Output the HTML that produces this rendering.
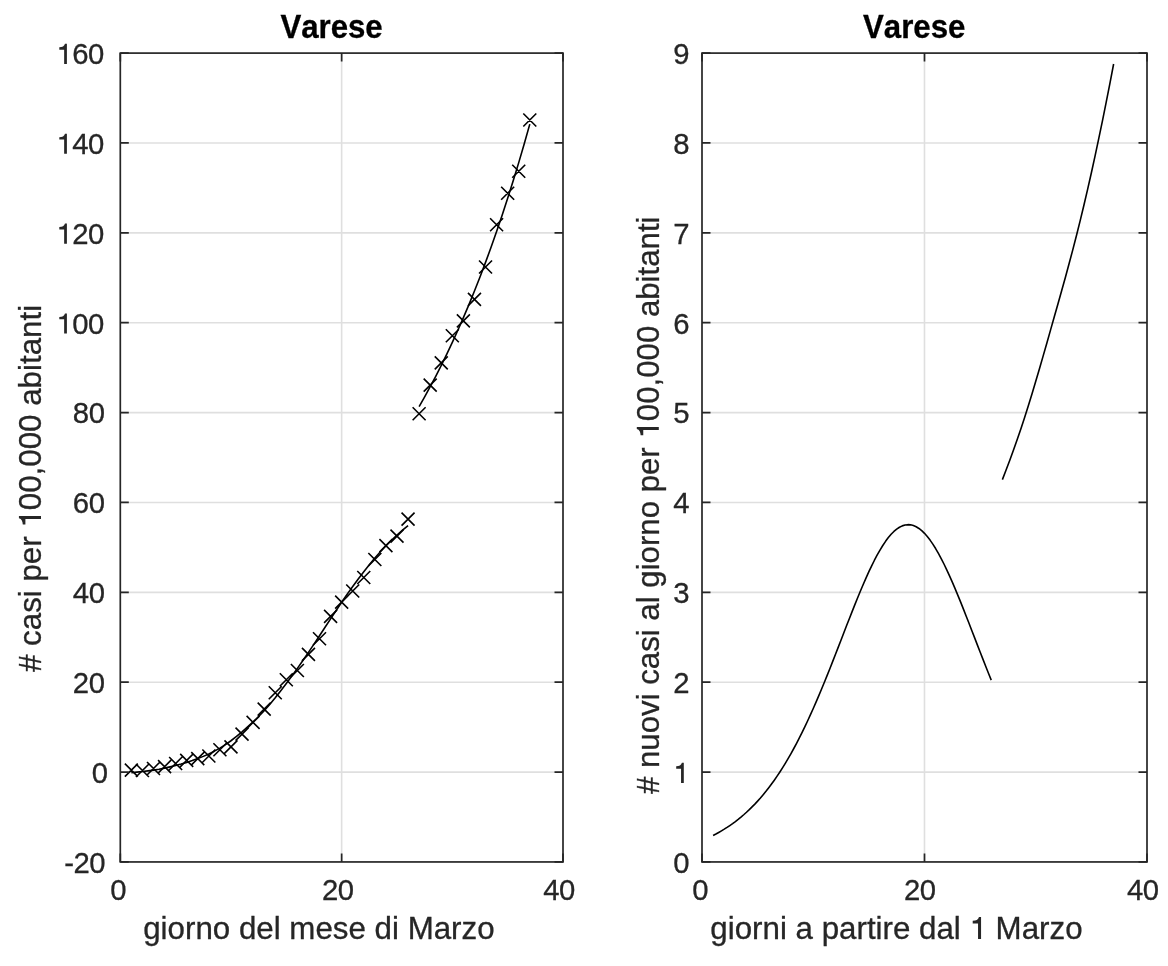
<!DOCTYPE html>
<html><head><meta charset="utf-8"><title>Varese</title>
<style>
html,body{margin:0;padding:0;background:#fff;}
body{width:1168px;height:966px;overflow:hidden;}
svg{display:block;will-change:transform;}
text{font-family:"Liberation Sans",sans-serif;font-kerning:none;white-space:pre;}
</style></head><body>
<svg width="1168" height="966" viewBox="0 0 1168 966">
<rect width="1168" height="966" fill="#fff"/>
<line x1="341.65" y1="53.1" x2="341.65" y2="861.95" stroke="#dfdfdf" stroke-width="1.6"/>
<line x1="120.3" y1="772.08" x2="563" y2="772.08" stroke="#dfdfdf" stroke-width="1.6"/>
<line x1="120.3" y1="682.21" x2="563" y2="682.21" stroke="#dfdfdf" stroke-width="1.6"/>
<line x1="120.3" y1="592.33" x2="563" y2="592.33" stroke="#dfdfdf" stroke-width="1.6"/>
<line x1="120.3" y1="502.46" x2="563" y2="502.46" stroke="#dfdfdf" stroke-width="1.6"/>
<line x1="120.3" y1="412.59" x2="563" y2="412.59" stroke="#dfdfdf" stroke-width="1.6"/>
<line x1="120.3" y1="322.72" x2="563" y2="322.72" stroke="#dfdfdf" stroke-width="1.6"/>
<line x1="120.3" y1="232.84" x2="563" y2="232.84" stroke="#dfdfdf" stroke-width="1.6"/>
<line x1="120.3" y1="142.97" x2="563" y2="142.97" stroke="#dfdfdf" stroke-width="1.6"/>
<line x1="924.5" y1="53.1" x2="924.5" y2="861.95" stroke="#dfdfdf" stroke-width="1.6"/>
<line x1="702" y1="772.08" x2="1147" y2="772.08" stroke="#dfdfdf" stroke-width="1.6"/>
<line x1="702" y1="682.21" x2="1147" y2="682.21" stroke="#dfdfdf" stroke-width="1.6"/>
<line x1="702" y1="592.33" x2="1147" y2="592.33" stroke="#dfdfdf" stroke-width="1.6"/>
<line x1="702" y1="502.46" x2="1147" y2="502.46" stroke="#dfdfdf" stroke-width="1.6"/>
<line x1="702" y1="412.59" x2="1147" y2="412.59" stroke="#dfdfdf" stroke-width="1.6"/>
<line x1="702" y1="322.72" x2="1147" y2="322.72" stroke="#dfdfdf" stroke-width="1.6"/>
<line x1="702" y1="232.84" x2="1147" y2="232.84" stroke="#dfdfdf" stroke-width="1.6"/>
<line x1="702" y1="142.97" x2="1147" y2="142.97" stroke="#dfdfdf" stroke-width="1.6"/>
<polyline points="131.37 772.76 136.9 772.13 142.44 771.53 147.97 770.89 153.5 770.15 159.04 769.26 164.57 768.15 170.1 766.88 175.64 765.51 181.17 764.03 186.7 762.4 192.24 760.6 197.77 758.6 203.31 756.38 208.84 753.91 214.37 751.16 219.91 748.11 225.44 744.65 230.97 740.75 236.51 736.46 242.04 731.84 247.58 726.96 253.11 721.89 258.64 716.5 264.18 710.66 269.71 704.41 275.25 697.77 280.78 690.79 286.31 683.53 291.85 676.03 297.38 668.36 302.91 660.49 308.45 652.39 313.98 644.12 319.51 635.74 325.05 627.3 330.58 618.86 336.12 610.5 341.65 602.26 347.18 594.24 352.72 586.48 358.25 578.99 363.78 571.76 369.32 564.78 374.85 558.05 380.39 551.68 385.92 545.74 391.45 540.22 396.99 535.05 402.52 530.18 408.06 525.56" fill="none" stroke="#000" stroke-width="1.6" stroke-linejoin="round"/>
<polyline points="419.12 406.57 424.66 396.83 430.19 386.73 435.72 376.26 441.26 365.39 446.79 354.11 452.32 342.41 457.86 330.27 463.39 317.67 468.93 304.6 474.46 291.05 479.99 276.98 485.53 262.39 491.06 247.25 496.59 231.55 502.13 215.25 507.66 198.34 513.2 180.81 518.73 162.61 524.26 143.73 529.8 124.14" fill="none" stroke="#000" stroke-width="1.6" stroke-linejoin="round"/>
<path d="M124.87 763.69l13 13M124.87 776.69l13 -13M135.94 763.96l13 13M135.94 776.96l13 -13M147 761.98l13 13M147 774.98l13 -13M158.07 760.19l13 13M158.07 773.19l13 -13M169.14 757.04l13 13M169.14 770.04l13 -13M180.2 753.89l13 13M180.2 766.89l13 -13M191.27 752.1l13 13M191.27 765.1l13 -13M202.34 749.54l13 13M202.34 762.54l13 -13M213.41 743.2l13 13M213.41 756.2l13 -13M224.47 740.32l13 13M224.47 753.32l13 -13M235.54 727.61l13 13M235.54 740.61l13 -13M246.61 715.88l13 13M246.61 728.88l13 -13M257.68 702.67l13 13M257.68 715.67l13 -13M268.75 686.27l13 13M268.75 699.27l13 -13M279.81 673.23l13 13M279.81 686.23l13 -13M290.88 664.02l13 13M290.88 677.02l13 -13M301.95 647.85l13 13M301.95 660.85l13 -13M313.01 632.3l13 13M313.01 645.3l13 -13M324.08 609.87l13 13M324.08 622.87l13 -13M335.15 595.63l13 13M335.15 608.63l13 -13M346.22 584.49l13 13M346.22 597.49l13 -13M357.28 571l13 13M357.28 584l13 -13M368.35 553.03l13 13M368.35 566.03l13 -13M379.42 539.1l13 13M379.42 552.1l13 -13M390.49 529.66l13 13M390.49 542.66l13 -13M401.56 512.59l13 13M401.56 525.59l13 -13M412.62 407.21l13 13M412.62 420.21l13 -13M423.69 378.68l13 13M423.69 391.68l13 -13M434.76 356.43l13 13M434.76 369.43l13 -13M445.82 329.25l13 13M445.82 342.25l13 -13M456.89 314.42l13 13M456.89 327.42l13 -13M467.96 292.85l13 13M467.96 305.85l13 -13M479.03 260.5l13 13M479.03 273.5l13 -13M490.09 218.26l13 13M490.09 231.26l13 -13M501.16 186.8l13 13M501.16 199.8l13 -13M512.23 164.78l13 13M512.23 177.78l13 -13M523.3 113.55l13 13M523.3 126.55l13 -13" fill="none" stroke="#000" stroke-width="1.6"/>
<polyline points="713.12 835.43 715.91 833.98 718.69 832.45 721.47 830.85 724.25 829.17 727.03 827.4 729.81 825.54 732.59 823.59 735.38 821.53 738.16 819.38 740.94 817.12 743.72 814.75 746.5 812.27 749.28 809.67 752.06 806.94 754.84 804.09 757.62 801.1 760.41 797.98 763.19 794.71 765.97 791.31 768.75 787.75 771.53 784.04 774.31 780.18 777.09 776.15 779.88 771.96 782.66 767.61 785.44 763.09 788.22 758.39 791 753.53 793.78 748.49 796.56 743.28 799.34 737.9 802.12 732.35 804.91 726.63 807.69 720.75 810.47 714.7 813.25 708.5 816.03 702.14 818.81 695.65 821.59 689.02 824.38 682.27 827.16 675.41 829.94 668.45 832.72 661.41 835.5 654.3 838.28 647.15 841.06 639.96 843.84 632.77 846.62 625.58 849.41 618.44 852.19 611.36 854.97 604.37 857.75 597.49 860.53 590.75 863.31 584.19 866.09 577.83 868.88 571.7 871.66 565.82 874.44 560.24 877.22 554.97 880 550.05 882.78 545.49 885.56 541.34 888.34 537.6 891.12 534.3 893.91 531.46 896.69 529.1 899.47 527.23 902.25 525.87 905.03 525.01 907.81 524.67 910.59 524.84 913.38 525.54 916.16 526.74 918.94 528.45 921.72 530.66 924.5 533.34 927.28 536.49 930.06 540.09 932.84 544.12 935.62 548.55 938.41 553.36 941.19 558.52 943.97 564 946.75 569.79 949.53 575.84 952.31 582.13 955.09 588.63 957.88 595.32 960.66 602.15 963.44 609.11 966.22 616.17 969 623.29 971.78 630.47 974.56 637.66 977.34 644.85 980.12 652.02 982.91 659.14 985.69 666.21 988.47 673.19 991.25 680.09" fill="none" stroke="#000" stroke-width="1.6" stroke-linejoin="round"/>
<polyline points="1002.38 479.63 1006.08 470.06 1009.79 460.2 1013.5 450.03 1017.21 439.52 1020.92 428.64 1024.62 417.38 1028.33 405.72 1032.04 393.7 1035.75 381.33 1039.46 368.7 1043.17 355.86 1046.88 342.91 1050.58 329.88 1054.29 316.82 1058 303.72 1061.71 290.53 1065.42 277.17 1069.12 263.56 1072.83 249.61 1076.54 235.23 1080.25 220.38 1083.96 205.02 1087.67 189.14 1091.38 172.74 1095.08 155.84 1098.79 138.44 1102.5 120.55 1106.21 102.18 1109.92 83.34 1113.62 64.01" fill="none" stroke="#000" stroke-width="1.6" stroke-linejoin="round"/>
<path d="M120.3 861.95v-8.5M120.3 53.1v8.5M341.65 861.95v-8.5M341.65 53.1v8.5M563 861.95v-8.5M563 53.1v8.5M120.3 861.95h8.5M563 861.95h-8.5M120.3 772.08h8.5M563 772.08h-8.5M120.3 682.21h8.5M563 682.21h-8.5M120.3 592.33h8.5M563 592.33h-8.5M120.3 502.46h8.5M563 502.46h-8.5M120.3 412.59h8.5M563 412.59h-8.5M120.3 322.72h8.5M563 322.72h-8.5M120.3 232.84h8.5M563 232.84h-8.5M120.3 142.97h8.5M563 142.97h-8.5M120.3 53.1h8.5M563 53.1h-8.5" fill="none" stroke="#262626" stroke-width="1.7"/>
<rect x="120.3" y="53.1" width="442.7" height="808.85" fill="none" stroke="#262626" stroke-width="1.7"/>
<path d="M702 861.95v-8.5M702 53.1v8.5M924.5 861.95v-8.5M924.5 53.1v8.5M1147 861.95v-8.5M1147 53.1v8.5M702 861.95h8.5M1147 861.95h-8.5M702 772.08h8.5M1147 772.08h-8.5M702 682.21h8.5M1147 682.21h-8.5M702 592.33h8.5M1147 592.33h-8.5M702 502.46h8.5M1147 502.46h-8.5M702 412.59h8.5M1147 412.59h-8.5M702 322.72h8.5M1147 322.72h-8.5M702 232.84h8.5M1147 232.84h-8.5M702 142.97h8.5M1147 142.97h-8.5M702 53.1h8.5M1147 53.1h-8.5" fill="none" stroke="#262626" stroke-width="1.7"/>
<rect x="702" y="53.1" width="445" height="808.85" fill="none" stroke="#262626" stroke-width="1.7"/>
<g transform="translate(280.4 37.8)"><text transform="scale(1 1.07)" font-size="31.2" font-weight="bold" fill="#000" stroke="#000" stroke-width="0.3">Varese</text></g>
<g transform="translate(863 37.8)"><text transform="scale(1 1.07)" font-size="31.2" font-weight="bold" fill="#000" stroke="#000" stroke-width="0.3">Varese</text></g>
<g transform="translate(143.2 939.1)"><text font-size="31.3" fill="#262626" stroke="#262626" stroke-width="0.3">giorno del mese di Marzo</text></g>
<g transform="translate(710.3 939.1)"><text x="0" font-size="31.3" fill="#262626" stroke="#262626" stroke-width="0.3">giorni a partire dal </text><path transform="translate(259.23 0) scale(1.0982)" d="M10.5 0H7.75V-14.2H2.9V-16.6C6-16.8 7.9-17.5 8.6-20.1H10.5Z" fill="#262626"/><text x="276.64" font-size="31.3" fill="#262626" stroke="#262626" stroke-width="0.3"> Marzo</text></g>
<g transform="translate(41 672) rotate(-90)"><text x="0" font-size="31.3" fill="#262626" stroke="#262626" stroke-width="0.3"># casi per </text><path transform="translate(144.4 0) scale(1.0982)" d="M10.5 0H7.75V-14.2H2.9V-16.6C6-16.8 7.9-17.5 8.6-20.1H10.5Z" fill="#262626"/><text x="161.8" font-size="31.3" fill="#262626" stroke="#262626" stroke-width="0.3">00,000 abitanti</text></g>
<g transform="translate(658.8 794) rotate(-90)"><text x="0" font-size="31.2" fill="#262626" stroke="#262626" stroke-width="0.3"># nuovi casi al giorno per </text><path transform="translate(355.54 0) scale(1.0947)" d="M10.5 0H7.75V-14.2H2.9V-16.6C6-16.8 7.9-17.5 8.6-20.1H10.5Z" fill="#262626"/><text x="372.89" font-size="31.2" fill="#262626" stroke="#262626" stroke-width="0.3">00,000 abitanti</text></g>
<g transform="translate(110.3 900.3)"><text transform="scale(1 1.017)" font-size="29.3" fill="#262626" stroke="#262626" stroke-width="0.3" letter-spacing="-0.45">0</text></g>
<g transform="translate(321.9 900.3)"><text transform="scale(1 1.017)" font-size="29.3" fill="#262626" stroke="#262626" stroke-width="0.3" letter-spacing="-0.45">20</text></g>
<g transform="translate(543.2 900.3)"><text transform="scale(1 1.017)" font-size="29.3" fill="#262626" stroke="#262626" stroke-width="0.3" letter-spacing="-0.45">40</text></g>
<g transform="translate(692.3 900.3)"><text transform="scale(1 1.017)" font-size="29.3" fill="#262626" stroke="#262626" stroke-width="0.3" letter-spacing="-0.45">0</text></g>
<g transform="translate(904 900.3)"><text transform="scale(1 1.017)" font-size="29.3" fill="#262626" stroke="#262626" stroke-width="0.3" letter-spacing="-0.45">20</text></g>
<g transform="translate(1127 900.3)"><text transform="scale(1 1.017)" font-size="29.3" fill="#262626" stroke="#262626" stroke-width="0.3" letter-spacing="-0.45">40</text></g>
<g transform="translate(64.2 872.75)"><text transform="scale(1 1.017)" font-size="29.3" fill="#262626" stroke="#262626" stroke-width="0.3" letter-spacing="-0.45">-20</text></g>
<g transform="translate(91.8 782.88)"><text transform="scale(1 1.017)" font-size="29.3" fill="#262626" stroke="#262626" stroke-width="0.3" letter-spacing="-0.45">0</text></g>
<g transform="translate(72.8 693.01)"><text transform="scale(1 1.017)" font-size="29.3" fill="#262626" stroke="#262626" stroke-width="0.3" letter-spacing="-0.45">20</text></g>
<g transform="translate(72.8 603.13)"><text transform="scale(1 1.017)" font-size="29.3" fill="#262626" stroke="#262626" stroke-width="0.3" letter-spacing="-0.45">40</text></g>
<g transform="translate(72.8 513.26)"><text transform="scale(1 1.017)" font-size="29.3" fill="#262626" stroke="#262626" stroke-width="0.3" letter-spacing="-0.45">60</text></g>
<g transform="translate(72.8 423.39)"><text transform="scale(1 1.017)" font-size="29.3" fill="#262626" stroke="#262626" stroke-width="0.3" letter-spacing="-0.45">80</text></g>
<g transform="translate(56.4 333.52)"><path transform="translate(0 0) scale(1.0000)" d="M10.5 0H7.75V-14.2H2.9V-16.6C6-16.8 7.9-17.5 8.6-20.1H10.5Z" fill="#262626"/><text x="15.85" transform="scale(1 1.017)" font-size="29.3" fill="#262626" stroke="#262626" stroke-width="0.3" letter-spacing="-0.45">00</text></g>
<g transform="translate(56.4 243.64)"><path transform="translate(0 0) scale(1.0000)" d="M10.5 0H7.75V-14.2H2.9V-16.6C6-16.8 7.9-17.5 8.6-20.1H10.5Z" fill="#262626"/><text x="15.85" transform="scale(1 1.017)" font-size="29.3" fill="#262626" stroke="#262626" stroke-width="0.3" letter-spacing="-0.45">20</text></g>
<g transform="translate(56.4 153.77)"><path transform="translate(0 0) scale(1.0000)" d="M10.5 0H7.75V-14.2H2.9V-16.6C6-16.8 7.9-17.5 8.6-20.1H10.5Z" fill="#262626"/><text x="15.85" transform="scale(1 1.017)" font-size="29.3" fill="#262626" stroke="#262626" stroke-width="0.3" letter-spacing="-0.45">40</text></g>
<g transform="translate(56.4 63.9)"><path transform="translate(0 0) scale(1.0000)" d="M10.5 0H7.75V-14.2H2.9V-16.6C6-16.8 7.9-17.5 8.6-20.1H10.5Z" fill="#262626"/><text x="15.85" transform="scale(1 1.017)" font-size="29.3" fill="#262626" stroke="#262626" stroke-width="0.3" letter-spacing="-0.45">60</text></g>
<g transform="translate(673.3 872.75)"><text transform="scale(1 1.017)" font-size="29.3" fill="#262626" stroke="#262626" stroke-width="0.3" letter-spacing="-0.45">0</text></g>
<g transform="translate(673.3 782.88)"><path transform="translate(0 0) scale(1.0000)" d="M10.5 0H7.75V-14.2H2.9V-16.6C6-16.8 7.9-17.5 8.6-20.1H10.5Z" fill="#262626"/></g>
<g transform="translate(673.3 693.01)"><text transform="scale(1 1.017)" font-size="29.3" fill="#262626" stroke="#262626" stroke-width="0.3" letter-spacing="-0.45">2</text></g>
<g transform="translate(673.3 603.13)"><text transform="scale(1 1.017)" font-size="29.3" fill="#262626" stroke="#262626" stroke-width="0.3" letter-spacing="-0.45">3</text></g>
<g transform="translate(673.3 513.26)"><text transform="scale(1 1.017)" font-size="29.3" fill="#262626" stroke="#262626" stroke-width="0.3" letter-spacing="-0.45">4</text></g>
<g transform="translate(673.3 423.39)"><text transform="scale(1 1.017)" font-size="29.3" fill="#262626" stroke="#262626" stroke-width="0.3" letter-spacing="-0.45">5</text></g>
<g transform="translate(673.3 333.52)"><text transform="scale(1 1.017)" font-size="29.3" fill="#262626" stroke="#262626" stroke-width="0.3" letter-spacing="-0.45">6</text></g>
<g transform="translate(673.3 243.64)"><text transform="scale(1 1.017)" font-size="29.3" fill="#262626" stroke="#262626" stroke-width="0.3" letter-spacing="-0.45">7</text></g>
<g transform="translate(673.3 153.77)"><text transform="scale(1 1.017)" font-size="29.3" fill="#262626" stroke="#262626" stroke-width="0.3" letter-spacing="-0.45">8</text></g>
<g transform="translate(673.3 63.9)"><text transform="scale(1 1.017)" font-size="29.3" fill="#262626" stroke="#262626" stroke-width="0.3" letter-spacing="-0.45">9</text></g>
</svg>
</body></html>
